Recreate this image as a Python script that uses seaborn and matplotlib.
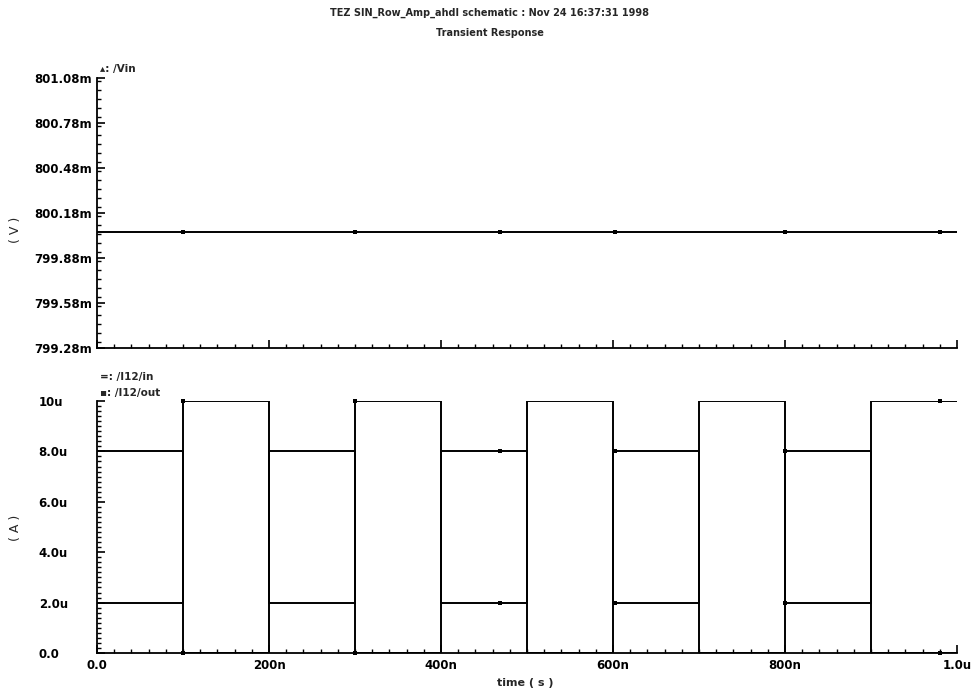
import matplotlib
matplotlib.use("Agg")
import matplotlib.pyplot as plt
import matplotlib.ticker as mticker
import seaborn as sns
import numpy as np
import pandas as pd

# ---- data ----
time_ns = [0, 1000]
vin_mv = [800.05, 800.05]

# step edges (ns) and levels (uA) for the two currents
edge_ns = [0, 100, 200, 300, 400, 500, 600, 700, 800, 900, 1000]
i_in_ua = [8, 0, 8, 0, 8, 0, 8, 0, 8, 0, 0]
i_out_ua = [2, 10, 2, 10, 2, 10, 2, 10, 2, 10, 10]

# sample points where the simulator drew its markers
marker_ns = [100, 300, 469, 602, 800, 980]

v_ticks = [799.28, 799.58, 799.88, 800.18, 800.48, 800.78, 801.08]
v_labels = ["799.28m", "799.58m", "799.88m", "800.18m", "800.48m", "800.78m", "801.08m"]
a_ticks = [0, 2, 4, 6, 8, 10]
a_labels = ["0.0", "2.0u", "4.0u", "6.0u", "8.0u", "10u"]
t_ticks = [0, 200, 400, 600, 800, 1000]
t_labels = ["0.0", "200n", "400n", "600n", "800n", "1.0u"]

title = "TEZ SIN_Row_Amp_ahdl schematic : Nov 24 16:37:31 1998"
subtitle = "Transient Response"


def level_at(t, edges, levels):
    idx = np.searchsorted(edges, t, side="right") - 1
    return [levels[i] for i in idx]


sns.set_style("white")
plt.rcParams['font.family'] = ['DejaVu Sans']

fig = plt.figure(figsize=(9.78, 6.91), dpi=100)
ax_v = fig.add_axes([0.0992, 0.4964, 0.8793, 0.3907])
ax_a = fig.add_axes([0.0992, 0.0550, 0.8793, 0.3647])

# top panel: Vin
vin = pd.DataFrame({"t": time_ns, "v": vin_mv})
sns.lineplot(data=vin, x="t", y="v", ax=ax_v, color="black", linewidth=1.4)
vin_m = pd.DataFrame({"t": marker_ns, "v": np.interp(marker_ns, time_ns, vin_mv)})
sns.scatterplot(data=vin_m, x="t", y="v", ax=ax_v, marker="s", s=12,
                color="black", edgecolor="black", linewidth=0)

# bottom panel: currents
cur = pd.DataFrame({"t": edge_ns, "in": i_in_ua, "out": i_out_ua})
for col in ["in", "out"]:
    sns.lineplot(data=cur, x="t", y=col, ax=ax_a, color="black",
                 linewidth=1.4, drawstyle="steps-post", sort=False)
    mk = pd.DataFrame({"t": marker_ns,
                       "y": level_at(marker_ns, edge_ns, cur[col].tolist())})
    sns.scatterplot(data=mk, x="t", y="y", ax=ax_a, marker="s", s=12,
                    color="black", edgecolor="black", linewidth=0,
                    clip_on=False, zorder=5)

for ax in (ax_v, ax_a):
    ax.set_xlim(0, 1000)
    ax.set_xticks(t_ticks)
    ax.xaxis.set_minor_locator(mticker.MultipleLocator(20))
    ax.set_xlabel("")
    ax.set_ylabel("")
    for s in ("top", "right"):
        ax.spines[s].set_visible(False)
    for s in ("left", "bottom"):
        ax.spines[s].set_linewidth(1.3)
        ax.spines[s].set_color("black")
    ax.tick_params(which="both", bottom=True, left=True, top=False, right=False)
    ax.tick_params(which="major", direction="in", length=6, width=1.2, colors="black")
    ax.tick_params(which="minor", direction="in", length=3, width=1.0, colors="black")

ax_v.set_ylim(799.28, 801.08)
ax_v.set_yticks(v_ticks)
ax_v.set_yticklabels(v_labels, fontsize=8.5, fontweight="bold")
ax_v.yaxis.set_minor_locator(mticker.MultipleLocator(0.06))
ax_v.set_xticklabels([])

ax_a.set_ylim(0, 10)
ax_a.set_yticks(a_ticks)
ax_a.set_yticklabels(a_labels, fontsize=8.5, fontweight="bold", ha="left")
ax_a.tick_params(axis="y", which="major", pad=42)
ax_a.yaxis.set_minor_locator(mticker.MultipleLocator(0.2))
ax_a.set_xticklabels(t_labels, fontsize=8.5, fontweight="bold")
ax_a.tick_params(axis="x", which="major", pad=4)

# titles, axis names, legend lines
fig.text(0.501, 0.982, title, ha="center", va="center", fontsize=7, fontweight="bold")
fig.text(0.501, 0.952, subtitle, ha="center", va="center", fontsize=7, fontweight="bold")
fig.text(0.016, 0.667, "( V )", rotation=90, ha="center", va="center", fontsize=9)
fig.text(0.016, 0.236, "( A )", rotation=90, ha="center", va="center", fontsize=9)
fig.text(0.537, 0.012, "time ( s )", ha="center", va="center", fontsize=8, fontweight="bold")

fig.text(0.102, 0.893, "\u25b4: /Vin", ha="left", va="bottom", fontsize=7.5, fontweight="bold")
fig.text(0.102, 0.447, "=: /I12/in", ha="left", va="bottom", fontsize=7.5, fontweight="bold")
fig.text(0.102, 0.424, "\u25aa: /I12/out", ha="left", va="bottom", fontsize=7.5, fontweight="bold")

fig.savefig("out.png", dpi=100, facecolor="white")
